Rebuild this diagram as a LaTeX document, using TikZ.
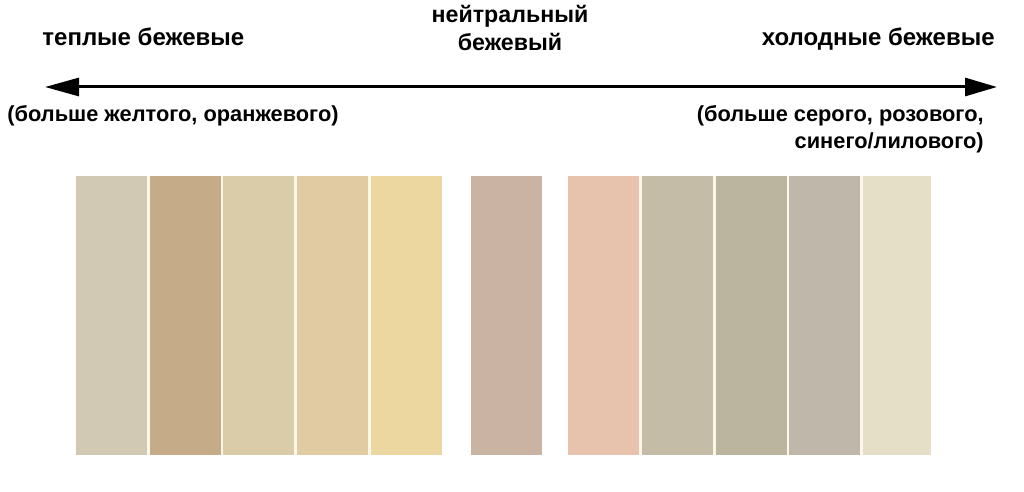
\documentclass[tikz,border=0pt]{standalone}
\usepackage{fontspec}
\setmainfont{Liberation Sans}
\usetikzlibrary{arrows.meta}
\definecolor{warm_a}{HTML}{D1C9B3}
\definecolor{warm_b}{HTML}{C5AB87}
\definecolor{warm_c}{HTML}{DACBA9}
\definecolor{warm_d}{HTML}{E1CBA2}
\definecolor{warm_e}{HTML}{EDD7A1}
\definecolor{neutral_a}{HTML}{CBB3A4}
\definecolor{cold_a}{HTML}{E7C2AC}
\definecolor{cold_b}{HTML}{C4BCA6}
\definecolor{cold_c}{HTML}{BBB49F}
\definecolor{cold_d}{HTML}{C0B7AB}
\definecolor{cold_e}{HTML}{E6DFC7}
\definecolor{sep_cream}{HTML}{FBF8EA}

\begin{document}
\begin{tikzpicture}[x=0.5pt, y=-0.5pt,
        lbl/.style={font=\bfseries\fontsize{12}{14}\selectfont, inner sep=0pt},
        note/.style={font=\bfseries\fontsize{10.9}{13}\selectfont, inner sep=0pt}]
    \useasboundingbox[fill=white] (0,0) rectangle (1024,492);

    % labels
    \node[lbl, anchor=base west] (warm) at (42,46) {теплые бежевые};
    \node[lbl, anchor=base] (neutA) at (510,23) {\fontsize{11.6}{14}\selectfont нейтральный};
    \node[lbl, anchor=base] (neutB) at (510,51) {\fontsize{11.6}{14}\selectfont бежевый};
    \node[lbl, anchor=base east] (cold) at (995,46) {холодные бежевые};

    \node[note, anchor=base west] (warmNote) at (7,122) {(больше желтого, оранжевого)};
    \node[note, anchor=base east] (coldNoteA) at (984,122) {(больше серого, розового,};
    \node[note, anchor=base east] (coldNoteB) at (984,149) {синего/лилового)};

    % scale arrow
    \coordinate (warmEnd) at (45,87);
    \coordinate (coldEnd) at (997,87);
    \draw[line width=1.5pt, {Triangle[length=17pt,width=9pt]}-{Triangle[length=16pt,width=9pt]}] (warmEnd) -- (coldEnd);

    % swatches
    \fill[sep_cream] (76,176) rectangle (442,455);
    \fill[sep_cream] (568,176) rectangle (931,455);
    \foreach \xa/\xb/\col in {76/147/warm_a, 150/221/warm_b, 223/294/warm_c,
                              297/368/warm_d, 371/442/warm_e, 471/542/neutral_a,
                              568/639/cold_a, 642/713/cold_b, 716/787/cold_c,
                              789/860/cold_d, 863/931/cold_e}
        \fill[\col] (\xa,176) rectangle (\xb,455);
\end{tikzpicture}
\end{document}
